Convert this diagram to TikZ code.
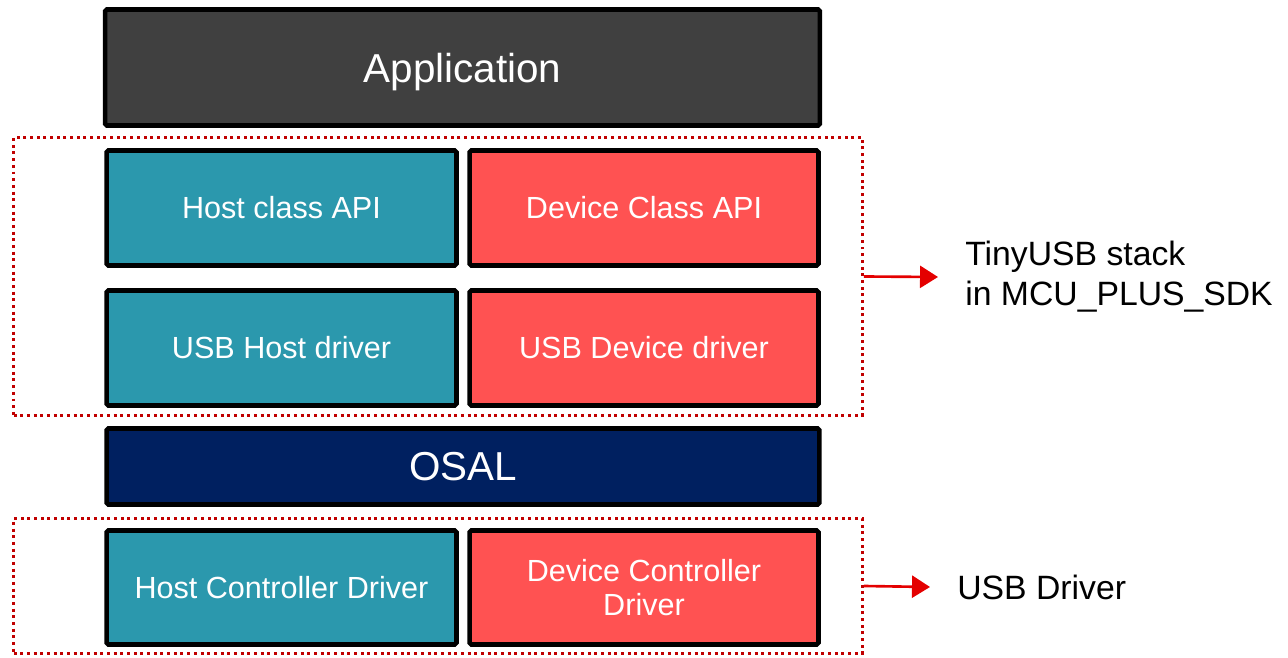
\documentclass[tikz,border=0pt]{standalone}
\usepackage{fontspec}
\setmainfont{Liberation Sans}
\usetikzlibrary{arrows.meta}
\definecolor{white}{RGB}{255,255,255}
\definecolor{black}{RGB}{0,0,0}
\definecolor{app_gray}{RGB}{64,64,64}
\definecolor{host_teal}{RGB}{43,152,173}
\definecolor{dev_red}{RGB}{255,82,82}
\definecolor{osal_navy}{RGB}{0,32,96}
\definecolor{frame_red}{RGB}{192,0,0}
\definecolor{arrow_red}{RGB}{228,0,0}

\begin{document}
\begin{tikzpicture}[x=0.02cm,y=-0.02cm,
	layer/.style={draw=black,line width=2.6pt,rounded corners=1pt,text=white,align=center,inner sep=0pt},
	big/.style={font=\fontsize{23}{26}\selectfont,text depth=0pt},
	small/.style={font=\fontsize{17.4}{19.4}\selectfont},
	frame/.style={draw=frame_red,line width=1.7pt,dash pattern=on 1.7pt off 2.1pt,minimum width=16.98cm,inner sep=0pt},
	side/.style={anchor=west,align=left,inner sep=0pt,font=\fontsize{19.2}{22.7}\selectfont}]
	\useasboundingbox (0,0) rectangle (1288,658);

	% top and middle layers
	\node[layer,big,fill=app_gray,minimum width=14.3cm,minimum height=2.32cm] (app) at (462.5,67.5) {Application};
	\node[layer,big,fill=osal_navy,minimum width=14.26cm,minimum height=1.52cm] (osal) at (463,466.5) {OSAL};

	% host / device columns
	\node[layer,small,fill=host_teal,minimum width=7cm,minimum height=2.3cm] (hostapi) at (281.5,208) {Host class API};
	\node[layer,small,fill=dev_red,minimum width=6.98cm,minimum height=2.3cm] (devapi) at (644,208) {Device Class API};
	\node[layer,small,fill=host_teal,minimum width=7cm,minimum height=2.3cm] (hostdrv) at (281.5,348) {USB Host driver};
	\node[layer,small,fill=dev_red,minimum width=6.98cm,minimum height=2.3cm] (devdrv) at (644,348) {USB Device driver};
	\node[layer,small,fill=host_teal,minimum width=7cm,minimum height=2.28cm] (hcd) at (281.5,587.5) {Host Controller Driver};
	\node[layer,small,fill=dev_red,minimum width=6.98cm,minimum height=2.28cm] (dcd) at (644,587.5) {Device Controller\\Driver};

	% dotted groups
	\node[frame,minimum height=5.56cm] (tinyusb) at (438,276.5) {};
	\node[frame,minimum height=2.7cm] (usbdrv) at (438,586) {};

	\node[side] (tinyusblbl) at (965,277) {TinyUSB stack\\in MCU\_PLUS\_SDK};
	\node[side] (usbdrvlbl) at (957,587) {USB Driver};

	\foreach \x/\y in {tinyusb/tinyusblbl,usbdrv/usbdrvlbl}
		\draw[arrow_red,line width=1.5pt,-{Triangle[length=0.36cm,width=0.44cm]}] (\x.east) -- ([xshift=-0.54cm]\y.west);
\end{tikzpicture}
\end{document}
